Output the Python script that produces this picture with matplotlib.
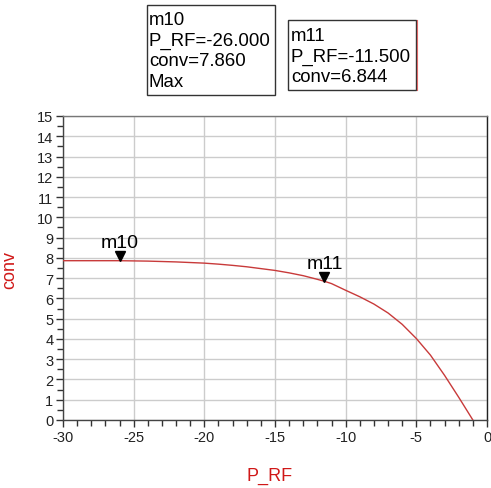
import matplotlib
matplotlib.use("Agg")
import matplotlib.pyplot as plt
from matplotlib.ticker import MultipleLocator
from matplotlib.patches import Rectangle

plt.rcParams['font.family'] = ['Liberation Sans', 'DejaVu Sans']
plt.rcParams['axes.unicode_minus'] = False

p_rf = [-30, -29, -28, -27, -26, -25, -24, -23, -22, -21, -20, -19, -18, -17, -16,
        -15, -14, -13, -12, -11.5, -11, -10, -9, -8, -7, -6, -5, -4, -3, -2, -1]
conv = [7.86, 7.86, 7.86, 7.86, 7.86, 7.85, 7.84, 7.82, 7.80, 7.77, 7.74, 7.69, 7.63, 7.56, 7.47,
        7.38, 7.26, 7.12, 6.94, 6.844, 6.73, 6.40, 6.08, 5.72, 5.28, 4.72, 4.02, 3.20, 2.20, 1.12, 0.0]

markers = ["m10", "m11"]
marker_x = [-26.0, -11.5]
marker_y = [7.860, 6.844]

m10_lines = ["m10", "P_RF=-26.000", "conv=7.860", "Max"]
m11_lines = ["m11", "P_RF=-11.500", "conv=6.844"]

xticks = list(range(-30, 1, 5))
yticks = list(range(0, 16, 1))

red = '#d01818'

W, H = 491, 489
fig = plt.figure(figsize=(W / 100, H / 100), dpi=100)
ax = fig.add_axes([63/W, 68/H, 424/W, 304/H])

ax.plot(p_rf, conv, color='#c83a3a', lw=1.0, zorder=3)

for name, mx, my in zip(markers, marker_x, marker_y):
    ax.plot([mx], [my + 0.22], marker='v', color='black', markersize=7, zorder=4, linestyle='none')
    ax.text(mx, my + 0.48, name, ha='center', va='bottom', fontsize=14, color='black', zorder=5)

ax.set_xlim(-30, 0)
ax.set_ylim(0, 15)
ax.set_xticks(xticks)
ax.set_yticks(yticks)
ax.xaxis.set_minor_locator(MultipleLocator(1))
ax.yaxis.set_minor_locator(MultipleLocator(0.5))
ax.tick_params(axis='both', which='major', direction='out', length=5, width=1, labelsize=10.5,
               colors='#333333', labelcolor='#222222', pad=2)
ax.tick_params(axis='both', which='minor', direction='out', length=4, width=1, colors='#333333')
ax.grid(True, which='major', color='#cccccc', lw=1.0)
ax.set_axisbelow(True)

ax.spines['left'].set_color('#444444')
ax.spines['bottom'].set_color('#444444')
ax.spines['top'].set_color('#777777')
ax.spines['right'].set_color('#222222')
for s in ax.spines.values():
    s.set_linewidth(1.0)

ax.set_xlabel('P_RF', color=red, fontsize=13)
ax.set_ylabel('conv', color=red, fontsize=13)
ax.xaxis.set_label_coords((270 - 63) / 424, (421 - 468) / 304)
ax.yaxis.set_label_coords((18 - 63) / 424, (421 - 270) / 304)

def box(x0, y0, x1, y1, edge):
    fig.patches.append(Rectangle((x0 / W, 1 - y1 / H), (x1 - x0) / W, (y1 - y0) / H,
                                 transform=fig.transFigure, facecolor='white',
                                 edgecolor=edge, lw=1.0))

box(147, 6, 275, 96, '#333333')
box(288, 21, 416, 91, '#333333')
fig.add_artist(plt.Line2D([417 / W, 417 / W], [1 - 21 / H, 1 - 91 / H], transform=fig.transFigure,
                          color='#dd6666', lw=0.8))

for i, line in enumerate(m10_lines):
    fig.text(149 / W, 1 - (25 + 20.7 * i) / H, line, ha='left', va='baseline', fontsize=13.4)
for i, line in enumerate(m11_lines):
    fig.text(291 / W, 1 - (41 + 20.7 * i) / H, line, ha='left', va='baseline', fontsize=13.4)

fig.savefig('out.png', dpi=100)
